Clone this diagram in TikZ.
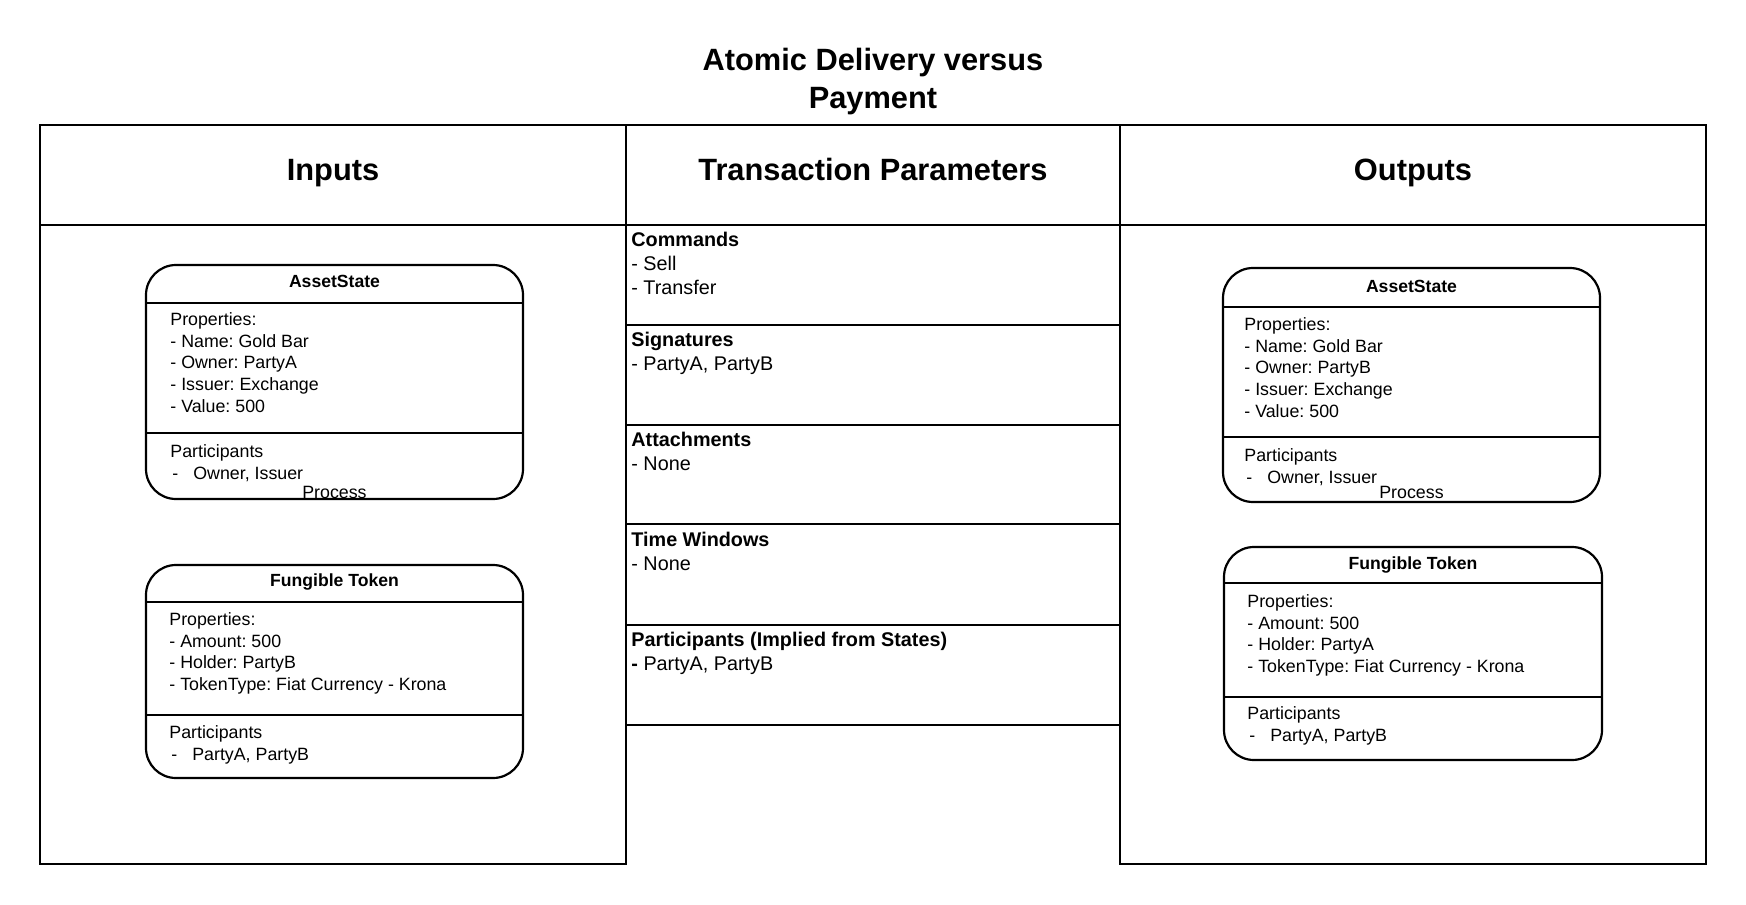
\documentclass[tikz,border=0pt]{standalone}
\usepackage{fontspec}
\setmainfont{Liberation Sans}
\frenchspacing
\usetikzlibrary{positioning}

\tikzset{
  frame/.style={line width=1.1pt},
  statebox/.style={line width=1.1pt, rounded corners=15pt},
  bigtitle/.style={font=\bfseries\fontsize{15.4}{19}\selectfont, align=center},
  boxtitle/.style={font=\bfseries\fontsize{8.8}{10.9}\selectfont},
  boxtext/.style={font=\fontsize{8.9}{10.9}\selectfont, align=left, anchor=north west, inner sep=0pt},
  paramtext/.style={font=\fontsize{9.9}{12}\selectfont, align=left, anchor=north west, inner sep=0pt},
}

\begin{document}
\begin{tikzpicture}[x=0.5pt, y=-0.5pt]
        \useasboundingbox (0,0) rectangle (1746,905);

        % title
        \node[bigtitle] (title) at (873,82) {Atomic Delivery versus\\Payment};

        % table frame
        \draw[frame] (40,125) rectangle (626,864);
        \draw[frame] (1120,125) rectangle (1706,864);
        \draw[frame] (626,125) -- (1120,125);
        \draw[frame] (40,225) -- (1706,225);
        \draw[frame] (626,325) -- (1120,325);
        \draw[frame] (626,425) -- (1120,425);
        \draw[frame] (626,524) -- (1120,524);
        \draw[frame] (626,625) -- (1120,625);
        \draw[frame] (626,725) -- (1120,725);

        \node[bigtitle, anchor=base] (hin) at (333,180) {Inputs};
        \node[bigtitle, anchor=base] (hpar) at (873,180) {Transaction Parameters};
        \node[bigtitle, anchor=base] (hout) at (1413,180) {Outputs};

        % transaction parameters
        \node[paramtext] (cmds) at (631,232) {\textbf{Commands}\\- Sell\\- Transfer};
        \node[paramtext] (sigs) at (631,332) {\textbf{Signatures}\\- PartyA, PartyB};
        \node[paramtext] (atts) at (631,432) {\textbf{Attachments}\\- None};
        \node[paramtext] (tws) at (631,532) {\textbf{Time Windows}\\- None};
        \node[paramtext] (parts) at (631,632) {\textbf{Participants (Implied from States)}\\\textbf{-} PartyA, PartyB};

        % input asset state
        \draw[statebox] (146,265) rectangle (523,499);
        \draw[frame] (146,303) -- (523,303);
        \draw[frame] (146,433) -- (523,433);
        \node[boxtitle] (inAsset) at (334.5,281) {AssetState};
        \node[boxtext] (inAssetProps) at (170,312) {Properties:\\- Name: Gold Bar\\- Owner: PartyA\\- Issuer: Exchange\\- Value: 500};
        \node[boxtext] (inAssetParts) at (170,444) {Participants\\\hspace*{1pt}-\hspace{7.5pt}Owner, Issuer};
        \node[boxtext, anchor=center] (inProcess) at (334.5,492) {Process};

        % input fungible token
        \draw[statebox] (146,565) rectangle (523,778);
        \draw[frame] (146,602) -- (523,602);
        \draw[frame] (146,715) -- (523,715);
        \node[boxtitle] (inToken) at (334.5,582) {Fungible Token};
        \node[boxtext] (inTokenProps) at (169,612) {Properties:\\- Amount: 500\\- Holder: PartyB\\- TokenType: Fiat Currency - Krona};
        \node[boxtext] (inTokenParts) at (169,725) {Participants\\\hspace*{1pt}-\hspace{7.5pt}PartyA, PartyB};

        % output asset state
        \draw[statebox] (1223,268) rectangle (1600,502);
        \draw[frame] (1223,307) -- (1600,307);
        \draw[frame] (1223,437) -- (1600,437);
        \node[boxtitle] (outAsset) at (1411.5,286) {AssetState};
        \node[boxtext] (outAssetProps) at (1244,317) {Properties:\\- Name: Gold Bar\\- Owner: PartyB\\- Issuer: Exchange\\- Value: 500};
        \node[boxtext] (outAssetParts) at (1244,448) {Participants\\\hspace*{1pt}-\hspace{7.5pt}Owner, Issuer};
        \node[boxtext, anchor=center] (outProcess) at (1411.5,492) {Process};

        % output fungible token
        \draw[statebox] (1224,547) rectangle (1602,760);
        \draw[frame] (1224,583) -- (1602,583);
        \draw[frame] (1224,697) -- (1602,697);
        \node[boxtitle] (outToken) at (1413,565) {Fungible Token};
        \node[boxtext] (outTokenProps) at (1247,594) {Properties:\\- Amount: 500\\- Holder: PartyA\\- TokenType: Fiat Currency - Krona};
        \node[boxtext] (outTokenParts) at (1247,706) {Participants\\\hspace*{1pt}-\hspace{7.5pt}PartyA, PartyB};

\end{tikzpicture}
\end{document}
